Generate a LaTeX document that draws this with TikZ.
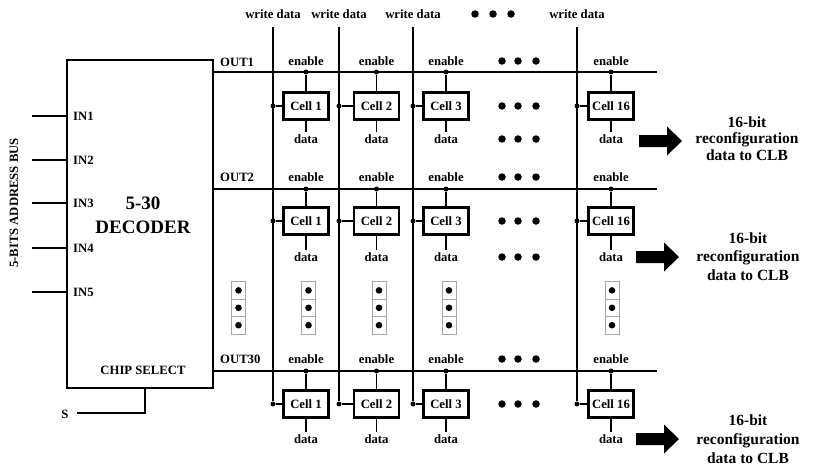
\documentclass[tikz,border=0pt]{standalone}
\usepackage{fontspec}
\setmainfont{Liberation Serif}
\tikzset{bigarrow/.pic={\fill (0,-6) -- (28,-6) -- (28,-14.5) -- (43,0) -- (28,14.5) -- (28,6) -- (0,6) -- cycle;}}
\begin{document}
\begin{tikzpicture}[x=1pt,y=-1pt,
  every node/.style={font=\fontsize{12.7}{14}\selectfont\bfseries, inner sep=0pt},
  wire/.style={line width=1.3pt},
  cellbox/.style={draw, line width=2.3pt, minimum width=45pt, minimum height=27pt},
  jdot/.style={circle, fill, minimum size=5pt},
  edot/.style={circle, fill, minimum size=7.5pt},
  vbox/.style={draw=black!35, line width=0.7pt, minimum width=14pt, minimum height=17.4pt,
    path picture={\fill (path picture bounding box.center) circle (3.3pt);}},
  bigfont/.style={font=\fontsize{15.5}{#1}\selectfont\bfseries, align=center},
  ]
\useasboundingbox (0,0) rectangle (818,474);

% decoder
\node[draw, line width=2.2pt, minimum width=146pt, minimum height=328pt, anchor=north west] (dec) at (66,59) {};
\node[font=\fontsize{19}{22}\selectfont\bfseries] (d1) at (143,203) {5-30};
\node[font=\fontsize{19}{22}\selectfont\bfseries] (d2) at (143,227) {DECODER};
\node (cs) at (143,370) {CHIP SELECT};
\node[rotate=90] (bus) at (14,203) {5-BITS ADDRESS BUS};

\foreach \i/\yy in {1/116,2/160,3/203,4/248,5/292} {
  \coordinate (in\i) at (32,\yy);
  \draw[wire] (in\i) -- (dec.west |- in\i);
  \node[anchor=west] (inl\i) at (73,\yy) {IN\i};
}

% chip select
\coordinate (sc) at (145,413);
\coordinate (send) at (77,413);
\node (s) at (65,414) {S};
\draw[wire] (dec.south -| sc) -- (sc) -- (send);

% OUT lines
\foreach \r/\yy/\lab/\ly in {1/72/OUT1/62, 2/189/OUT2/177, 3/371/OUT30/359} {
  \coordinate (oe\r) at (657,\yy);
  \draw[wire] (dec.east |- oe\r) -- (oe\r);
  \node[anchor=west] (ol\r) at (220,\ly) {\lab};
}

% write data
\foreach \k/\wx in {1/273,2/339,3/413,4/577} {
  \node (wl\k) at (\wx,14) {write data};
  \coordinate (wt\k) at (\wx,27);
}

% cells
\foreach \r/\oy/\cy/\dy/\ey in {1/72/106/139/61, 2/189/221/257/177, 3/371/404/439/359} {
  \foreach \k/\cx/\wx/\n in {1/306/273/1, 2/376.5/339/2, 3/446/413/3, 4/611/577/16} {
    \node[cellbox] (c\r\k) at (\cx,\cy) {Cell \n};
    \node[jdot] (en\r\k) at (\cx,\oy) {};
    \node[jdot] (wd\r\k) at (\wx,\cy) {};
    \node (el\r\k) at (\cx,\ey) {enable};
    \node[inner sep=2pt] (dl\r\k) at (\cx,\dy) {data};
    \draw[wire] (en\r\k) -- (c\r\k.north);
    \draw[wire] (wd\r\k) -- (c\r\k.west);
    \draw[wire] (c\r\k.south) -- (dl\r\k.north);
  }
}
\foreach \k in {1,...,4} { \draw[wire] (wt\k) -- (wd3\k); }

% ellipsis dots
\foreach \yy [count=\j] in {61,106,139,177,221,257,359,404} {
  \foreach \xx [count=\m] in {502,518,536} { \node[edot] (ed\j-\m) at (\xx,\yy) {}; }
}
\foreach \xx [count=\m] in {475,493,511} { \node[edot] (td\m) at (\xx,14) {}; }

% vertical dot boxes
\foreach \xx [count=\j] in {238.5,308.5,379,449,612} {
  \foreach \yy [count=\m] in {290.4,307.8,325.2} { \node[vbox] (vb\j-\m) at (\xx,\yy) {}; }
}

% output arrows and texts
\pic at (639,141) {bigarrow};
\pic at (636,257) {bigarrow};
\pic at (636,439) {bigarrow};
\node[bigfont=16.5] (t1) at (747,138.5) {16-bit\\reconfiguration\\data to CLB};
\node[bigfont=18.5] (t2) at (748,256.5) {16-bit\\reconfiguration\\data to CLB};
\node[bigfont=19] (t3) at (748,439) {16-bit\\reconfiguration\\data to CLB};
\end{tikzpicture}
\end{document}
